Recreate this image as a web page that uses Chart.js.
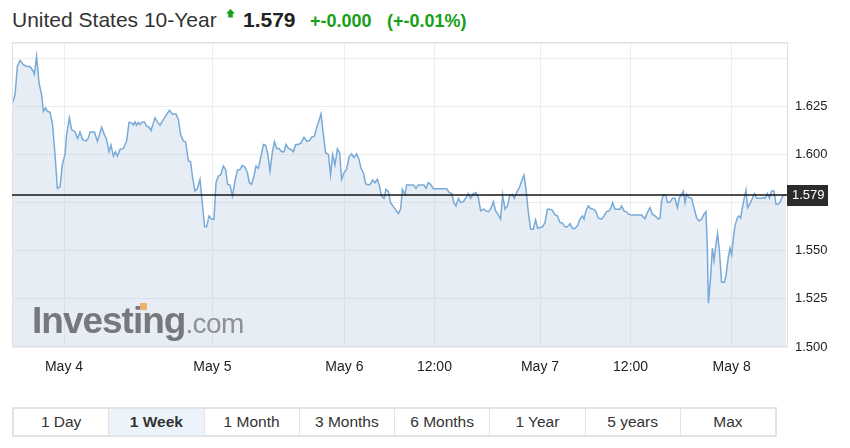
<!DOCTYPE html>
<html>
<head>
<meta charset="utf-8">
<script src="https://cdn.jsdelivr.net/npm/chart.js@4.4.1/dist/chart.umd.min.js"></script>
<style>
  html, body { margin: 0; padding: 0; background: #fff; }
  body { width: 850px; height: 448px; position: relative; overflow: hidden; font-family: "Liberation Sans", Arial, sans-serif; }
  .hd { position: absolute; line-height: 1; white-space: nowrap; }
  #name { left: 12px; top: 9.2px; font-size: 21px; color: #333; }
  #arrow { position: absolute; left: 226px; top: 9px; }
  #price { left: 243px; top: 9.2px; font-size: 21px; font-weight: bold; color: #222; }
  #chg { left: 310px; top: 11.8px; font-size: 18px; font-weight: bold; color: #16a016; }
  #pct { left: 387px; top: 11.8px; font-size: 18px; font-weight: bold; color: #16a016; }
  #chart { position: absolute; left: 0; top: 0; }
  #mark { position: absolute; left: 32px; top: 301.7px; line-height: 1; white-space: nowrap; pointer-events: none; }
  #mark .big { font-size: 37px; font-weight: bold; color: #76787b; letter-spacing: -1px; }
  #mark .small { font-size: 28px; color: #8e9093; letter-spacing: -0.6px; }
  #dot { position: absolute; left: 140px; top: 303px; width: 7px; height: 7px; background: #eab36a; }
  #ranges { position: absolute; left: 12px; top: 407px; width: 761px; height: 26px; border: 2px solid #e3e3e3; display: flex; }
  #ranges div { flex: 1; text-align: center; line-height: 26px; font-size: 15.5px; color: #333; border-left: 1px solid #e3e3e3; }
  #ranges div:first-child { border-left: none; }
  #ranges div.on { background: #edf3fa; font-weight: bold; }
</style>
</head>
<body>
<span class="hd" id="name">United States 10-Year</span>
<svg id="arrow" width="9" height="9" viewBox="0 0 9 9"><polygon points="4.5,0 9,4.5 6.8,4.5 6.8,8.5 2.2,8.5 2.2,4.5 0,4.5" fill="#16a016"/></svg>
<span class="hd" id="price">1.579</span>
<span class="hd" id="chg">+-0.000</span>
<span class="hd" id="pct">(+-0.01%)</span>
<canvas id="chart" width="850" height="392"></canvas>
<div id="mark"><span class="big">Investing</span><span class="small">.com</span></div>
<div id="dot"></div>
<div id="ranges"></div>
<script>
// time slots of the session chart (non-trading gaps removed) and the yields at them
const slots = [
    0, 1.5, 2.7, 4, 5.7, 7.3, 9, 10.7, 11.2, 12.3, 13.5, 14.8, 15.7, 16.8, 17.7, 19, 20.3, 21.5, 22.7, 24,
    25.2, 26.5, 27.3, 28.7, 29.8, 31.5, 32.8, 34, 35.3, 37, 38.2, 39, 41.2, 42.7, 44, 44.8, 46.2, 47.3, 48.5, 49.5,
    50.7, 51.7, 52.7, 54, 55.7, 57.3, 58.5, 59.8, 60.7, 61.5, 62.3, 63.2, 64, 65.2, 66.2, 67.3, 68.7, 69.5, 70.7, 71.5,
    72.7, 74, 75.7, 77.3, 78.7, 80.2, 82, 83.2, 84.3, 85.7, 86.8, 88.2, 89.3, 90.3, 91.5, 92.7, 94, 95.2, 96.3, 97.3,
    98.5, 99.8, 101, 102, 103.2, 104.3, 105.7, 106.8, 107.8, 109, 110.2, 111.5, 112.7, 114, 115.2, 116.5, 117.7, 118.7, 119.8, 121,
    122, 123.2, 124.5, 125.7, 126.8, 127.8, 129, 130.2, 131.2, 132.3, 133.5, 134.8, 136, 137, 138.2, 139.5, 140.7, 141.8, 143.2, 144.5,
    146, 147.3, 148.7, 149.8, 151.2, 152.3, 153.5, 154.5, 155.7, 156.8, 158.2, 159.3, 160.3, 161.5, 162.7, 163.8, 164.8, 166, 167.3, 168.5,
    169.8, 171, 172.3, 173.5, 174.5, 175.7, 176.8, 178.2, 179.3, 180.3, 181.5, 182.7, 183.7, 184.8, 186, 187, 188.2, 189.3, 190.7, 191.8,
    193.2, 194.3, 195.2, 196.5, 197.3, 199, 200.7, 202, 203.2, 204.8, 206, 207, 208.2, 209.3, 210.7, 217.3, 218.7, 219.8, 221, 222,
    223.2, 224.3, 225.7, 227, 228.2, 229.3, 230.7, 232, 233.2, 234.3, 235.7, 237, 238.2, 239.3, 240.7, 241.8, 243.2, 244.3, 245.3, 246.5,
    247.7, 249, 250.2, 251.2, 252.3, 253.7, 254.8, 256, 257, 258.2, 259.3, 260.7, 261.8, 262.8, 264, 265.3, 266.5, 267.7, 269, 270.2,
    271.5, 272.7, 274, 275.2, 276.5, 277.7, 279, 280.2, 281.5, 282.7, 284, 285.2, 286, 287, 288.2, 289.3, 290.7, 291.8, 293.2, 294.8,
    296, 297.3, 298.5, 299.5, 300.3, 301.5, 302.8, 304, 304.8, 306, 307.3, 308.2, 309.8, 314.8, 316.5, 317.7, 319, 320.2, 321.5, 323.2,
    324, 324.8, 325.7, 326.8, 327.8, 329, 330.2, 331.5, 332.7, 333.7, 334.8, 335.7, 336.5, 337.3, 338.5, 339.8, 341, 342.3, 343.5, 344.8,
    346, 347, 347.7, 348.2, 349.3, 350.2, 351, 352, 352.8, 353.7, 354.8, 356.2, 357, 358.2, 359, 359.8, 360.7, 361.5, 362.7, 363.5,
    364.3, 365.2, 366.2, 367, 367.8, 369, 370.2, 371.2, 372.3, 373.5, 374.8, 375.7, 376.5, 377.7, 378.7, 379.8, 381, 382, 383.2, 384.3,
    385.2, 387
]
const yields = [
    1.6259, 1.6310, 1.6457, 1.6488, 1.6466, 1.6457, 1.6457, 1.6431, 1.6417, 1.6509, 1.6371, 1.6310, 1.6224, 1.6241, 1.6224, 1.6219, 1.6155, 1.6000, 1.5824, 1.5831,
    1.5948, 1.6000, 1.6103, 1.6190, 1.6129, 1.6117, 1.6083, 1.6117, 1.6078, 1.6069, 1.6086, 1.6117, 1.6117, 1.6069, 1.6112, 1.6141, 1.6103, 1.6078, 1.6014, 1.6048,
    1.5991, 1.6014, 1.5991, 1.6026, 1.6031, 1.6069, 1.6167, 1.6164, 1.6152, 1.6169, 1.6152, 1.6167, 1.6155, 1.6169, 1.6169, 1.6147, 1.6141, 1.6124, 1.6164, 1.6190,
    1.6169, 1.6152, 1.6181, 1.6207, 1.6229, 1.6210, 1.6210, 1.6181, 1.6103, 1.6069, 1.6066, 1.5966, 1.5962, 1.5879, 1.5810, 1.5824, 1.5871, 1.5741, 1.5624, 1.5624,
    1.5681, 1.5664, 1.5664, 1.5853, 1.5888, 1.5893, 1.5940, 1.5922, 1.5845, 1.5841, 1.5784, 1.5862, 1.5919, 1.5922, 1.5943, 1.5934, 1.5905, 1.5853, 1.5845, 1.5888,
    1.5940, 1.5928, 1.5991, 1.6052, 1.6048, 1.6009, 1.5914, 1.6014, 1.6066, 1.6031, 1.6031, 1.6014, 1.6014, 1.6052, 1.6031, 1.6026, 1.6014, 1.6052, 1.6052, 1.6060,
    1.6090, 1.6069, 1.6072, 1.6090, 1.6095, 1.6138, 1.6176, 1.6210, 1.6103, 1.6009, 1.6000, 1.5893, 1.6000, 1.5945, 1.6029, 1.6009, 1.5871, 1.5905, 1.5922, 1.5986,
    1.6003, 1.5983, 1.6003, 1.5974, 1.5928, 1.5905, 1.5848, 1.5841, 1.5848, 1.5867, 1.5853, 1.5871, 1.5836, 1.5784, 1.5772, 1.5819, 1.5807, 1.5750, 1.5729, 1.5712,
    1.5693, 1.5716, 1.5819, 1.5793, 1.5841, 1.5841, 1.5841, 1.5824, 1.5841, 1.5841, 1.5841, 1.5824, 1.5853, 1.5845, 1.5822, 1.5822, 1.5802, 1.5798, 1.5750, 1.5733,
    1.5772, 1.5750, 1.5755, 1.5776, 1.5797, 1.5772, 1.5797, 1.5802, 1.5776, 1.5707, 1.5716, 1.5707, 1.5703, 1.5716, 1.5755, 1.5707, 1.5686, 1.5664, 1.5790, 1.5716,
    1.5733, 1.5790, 1.5793, 1.5772, 1.5802, 1.5828, 1.5862, 1.5893, 1.5819, 1.5698, 1.5612, 1.5612, 1.5660, 1.5617, 1.5621, 1.5624, 1.5647, 1.5716, 1.5716, 1.5710,
    1.5686, 1.5681, 1.5647, 1.5643, 1.5624, 1.5624, 1.5641, 1.5616, 1.5616, 1.5629, 1.5664, 1.5681, 1.5664, 1.5707, 1.5733, 1.5719, 1.5716, 1.5707, 1.5669, 1.5664,
    1.5681, 1.5703, 1.5707, 1.5724, 1.5750, 1.5716, 1.5716, 1.5716, 1.5733, 1.5707, 1.5702, 1.5690, 1.5685, 1.5685, 1.5667, 1.5698, 1.5724, 1.5690, 1.5681, 1.5664,
    1.5669, 1.5759, 1.5790, 1.5790, 1.5750, 1.5753, 1.5772, 1.5772, 1.5724, 1.5776, 1.5793, 1.5810, 1.5750, 1.5793, 1.5776, 1.5772, 1.5724, 1.5672, 1.5655, 1.5664,
    1.5690, 1.5703, 1.5500, 1.5228, 1.5362, 1.5514, 1.5448, 1.5534, 1.5590, 1.5500, 1.5336, 1.5336, 1.5371, 1.5469, 1.5514, 1.5479, 1.5569, 1.5629, 1.5672, 1.5681,
    1.5669, 1.5724, 1.5776, 1.5814, 1.5724, 1.5745, 1.5772, 1.5797, 1.5772, 1.5772, 1.5772, 1.5776, 1.5772, 1.5797, 1.5772, 1.5810, 1.5810, 1.5741, 1.5741, 1.5759,
    1.5784, 1.5790
]

const tickSlots = [26, 100.2, 166.2, 211.2, 264, 309.3, 359.8]
const tickLabels = ['May 4', 'May 5', 'May 6', '12:00', 'May 7', '12:00', 'May 8']
const yTicks = [1.5, 1.525, 1.55, 1.575, 1.6, 1.625, 1.65]
const yTickLabels = ['1.500', '1.525', '1.550', '1.575', '1.600', '1.625', '']
const lastPrice = 1.579
const ranges = ['1 Day', '1 Week', '1 Month', '3 Months', '6 Months', '1 Year', '5 years', 'Max']
const activeRange = '1 Week'

const rangeBar = document.getElementById('ranges')
ranges.forEach(r => {
    const d = document.createElement('div')
    d.textContent = r
    if (r === activeRange) d.className = 'on'
    rangeBar.appendChild(d)
})

const lastPriceLine = {
    id: 'lastPriceLine',
    afterDatasetsDraw(chart) {
        const { ctx, chartArea: a, scales } = chart
        ctx.save()
        ctx.strokeStyle = '#e0e0e0'
        ctx.lineWidth = 1
        ctx.strokeRect(a.left + 0.5, a.top + 0.5, a.width - 1, a.height - 1)
        ctx.beginPath()
        ctx.moveTo(a.left, a.top + 1)
        ctx.lineTo(a.right, a.top + 1)
        ctx.stroke()
        const y = Math.round(scales.y.getPixelForValue(lastPrice))
        ctx.beginPath()
        ctx.moveTo(a.left, y)
        ctx.lineTo(a.right, y)
        ctx.strokeStyle = '#151515'
        ctx.lineWidth = 1.5
        ctx.stroke()
        ctx.restore()
    },
    afterDraw(chart) {
        const { ctx, chartArea: a, scales } = chart
        const y = Math.round(scales.y.getPixelForValue(lastPrice))
        ctx.save()
        ctx.fillStyle = '#2b2b2b'
        ctx.fillRect(a.right - 1, y - 10, 41, 21)
        ctx.fillStyle = '#fff'
        ctx.font = '13px "Liberation Sans", Arial, sans-serif'
        ctx.textBaseline = 'middle'
        ctx.fillText(lastPrice.toFixed(3), a.right + 4, y + 0.5)
        ctx.restore()
    }
}

new Chart(document.getElementById('chart'), {
    type: 'line',
    data: {
        datasets: [{
            data: slots.map((s, i) => ({ x: s, y: yields[i] })),
            borderColor: '#78aad8',
            borderWidth: 1.5,
            backgroundColor: 'rgba(172,195,222,0.3)',
            fill: 'start',
            pointRadius: 0,
            tension: 0
        }]
    },
    options: {
        responsive: false,
        animation: false,
        events: [],
        layout: { padding: { left: 12, top: 42, right: 0, bottom: 0 } },
        plugins: { legend: { display: false }, tooltip: { enabled: false } },
        scales: {
            x: {
                type: 'linear',
                min: 0,
                max: 388,
                afterBuildTicks: scale => { scale.ticks = tickSlots.map(v => ({ value: v })) },
                afterFit: scale => { scale.height = 45 },
                grid: { color: '#ececec', drawTicks: false },
                border: { display: false },
                ticks: {
                    autoSkip: false,
                    maxRotation: 0,
                    padding: 12,
                    color: '#222',
                    font: { size: 14, family: '"Liberation Sans", Arial, sans-serif' },
                    callback: (v, i) => tickLabels[i]
                }
            },
            y: {
                position: 'right',
                min: 1.5,
                max: 1.6584,
                afterBuildTicks: scale => { scale.ticks = yTicks.map(v => ({ value: v })) },
                afterFit: scale => { scale.width = 62 },
                grid: { color: '#ececec', drawTicks: false },
                border: { display: false },
                ticks: {
                    padding: 7,
                    color: '#222',
                    font: { size: 13, family: '"Liberation Sans", Arial, sans-serif' },
                    callback: (v, i) => yTickLabels[i]
                }
            }
        }
    },
    plugins: [lastPriceLine]
})
</script>
</body>
</html>
